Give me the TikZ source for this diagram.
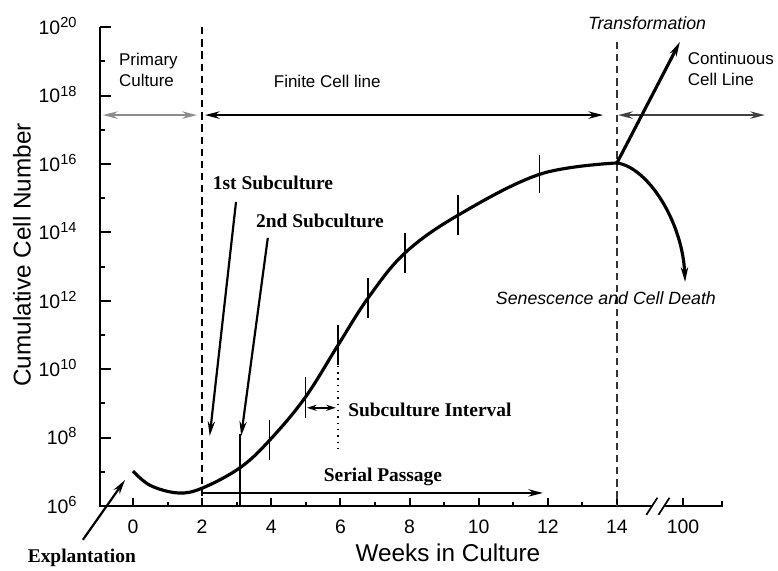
\documentclass[tikz,border=0pt]{standalone}
\usepackage{fontspec}
\setmainfont{Liberation Serif}
\setsansfont{Liberation Sans}
\usepackage{tikz}
\usetikzlibrary{arrows.meta,calc,positioning}

\begin{document}
\begin{tikzpicture}
[x=0.5cm,y=0.4946cm,thick,>={Stealth[length=6pt,width=3pt]},
	every node/.style={inner sep=1pt},
	lab/.style={font=\sffamily\fontsize{7}{8.6}\selectfont},
	ital/.style={font=\sffamily\itshape\fontsize{7.3}{9}\selectfont},
	bold/.style={font=\bfseries\fontsize{8}{10}\selectfont},
	ticklab/.style={font=\sffamily\fontsize{8}{9}\selectfont},
	axtitle/.style={font=\sffamily\fontsize{10}{12}\selectfont},
	bar/.style={line width=0.5pt},
	growth/.style={line width=1.3pt},
	phase/.style={<->,line width=1pt}]
\useasboundingbox (-3.847,-1.90) rectangle (18.658,14.795);

\coordinate (origin) at (-0.95,0);
\coordinate (ytop) at (-0.95,14);
\coordinate (brkL) at (15.01,0);
\coordinate (brkR) at (15.36,0);
\coordinate (xend) at (17.04,0);
\draw[line width=0.8pt] (ytop) -- (origin) -- (brkL);
\draw[line width=0.8pt] (brkR) -- (xend) -- ++(0,0.15);
\draw[line width=0.7pt] (14.85,-0.26) -- (15.17,0.24);
\draw[line width=0.7pt] (15.2,-0.26) -- (15.52,0.24);

\foreach \d in {1,3,...,13}
	\draw[line width=0.8pt] (-0.95,\d) -- ++(0.15,0);
\foreach \d in {0,2,...,14}
{
	\pgfmathtruncatemacro\ex{\d+6}
	\draw[line width=0.8pt] (-0.95,\d) -- ++(0.3,0);
	\node[ticklab,anchor=base east,yshift=-3pt] (y\ex) at (-1.5,\d) {10\textsuperscript{\ex}};
}
\foreach \w in {1,3,...,13}
	\draw[line width=0.8pt] (\w,0) -- ++(0,0.12);
\foreach \w in {0,2,...,14}
{
	\draw[line width=0.8pt] (\w,0) -- ++(0,0.22);
	\node[ticklab] (x\w) at (\w,-0.61) {\w};
}
\draw[line width=0.8pt] (15.91,0) -- ++(0,0.22);
\node[ticklab] (x100) at (15.91,-0.61) {100};

\node[axtitle] (xtitle) at (9.11,-1.37) {Weeks in Culture};
\node[axtitle,rotate=90] (ytitle) at (-3.21,7.34) {Cumulative Cell Number};

\draw[dashed,dash pattern=on 3pt off 2pt,line width=0.7pt] (2,14) -- (2,0);
\draw[dashed,dash pattern=on 3pt off 2pt,line width=0.5pt,black!80] (14,13.57) -- (14,0);
\draw[dotted,line width=0.6pt] (5.93,4.1) -- (5.93,1.64);

\coordinate (pcL) at (-0.87,11.43);
\coordinate (pcR) at (1.85,11.43);
\coordinate (fcL) at (2.08,11.43);
\coordinate (fcR) at (13.6,11.43);
\coordinate (ccL) at (14.03,11.43);
\coordinate (ccR) at (18.28,11.43);
\draw[phase,black!45] (pcL) -- (pcR);
\draw[phase] (fcL) -- (fcR);
\draw[phase,black!75] (ccL) -- (ccR);

\node[lab,align=left,anchor=west] (primary) at (-0.5,12.75) {Primary\\Culture};
\node[lab] (finite) at (5.62,12.4) {Finite Cell line};
\node[ital] (transf) at (14.87,14.12) {Transformation};
\node[lab,align=left,anchor=west] (contin) at (15.95,12.78) {Continuous\\Cell Line};
\node[ital] (senes) at (13.68,6.08) {Senescence and Cell Death};

\draw[growth] plot[smooth,tension=0.6] coordinates {(0,1.02) (0.5,0.6) (1.3,0.38) (2,0.52) (3.1,1.12) (3.96,1.93) (4.98,3.17) (5.93,4.7) (6.8,6.08) (7.87,7.4) (9.4,8.5) (11.77,9.7) (14,10.03)};
\coordinate (peak) at (14,10.03);
\coordinate (contTip) at (15.82,13.57);
\coordinate (deathTip) at (15.97,6.55);
\draw[growth,->] (peak) -- (contTip);
\draw[growth,->] (peak) .. controls (14.9,9.9) and (15.9,8.3) .. (deathTip);

\foreach \bx/\blo/\bhi in {3.96/1.34/2.51,4.98/2.57/3.77,5.93/4.12/5.29,6.8/5.5/6.67,7.87/6.81/7.98,9.4/7.92/9.09,11.77/9.15/10.26}
	\draw[bar] (\bx,\blo) -- (\bx,\bhi);
\draw[line width=0.7pt] (3.1,2.1) -- (3.1,0);

\node[bold] (first) at (4.05,9.44) {1st Subculture};
\node[bold] (second) at (5.41,8.33) {2nd Subculture};
\node[bold] (interval) at (8.59,2.81) {Subculture Interval};
\node[bold] (serial) at (7.23,0.85) {Serial Passage};
\node[bold] (explant) at (-1.48,-1.52) {Explantation};

\coordinate (firstS) at (2.98,8.89);
\coordinate (firstE) at (2.22,2.05);
\coordinate (secondS) at (3.9,7.84);
\coordinate (secondE) at (3.13,2.05);
\coordinate (spS) at (2,0.38);
\coordinate (spE) at (11.86,0.38);
\coordinate (intL) at (5.03,2.87);
\coordinate (intR) at (5.87,2.87);
\coordinate (exS) at (-1.45,-0.99);
\coordinate (exE) at (-0.23,0.76);
\path
\foreach \startNode/\endNode in {firstS/firstE,secondS/secondE,spS/spE,exS/exE}
{
	(\startNode) edge[->,line width=0.9pt] (\endNode)
};
\draw[<->,line width=0.6pt,>={Stealth[length=4pt,width=2.5pt]}] (intL) -- (intR);
\end{tikzpicture}
\end{document}
